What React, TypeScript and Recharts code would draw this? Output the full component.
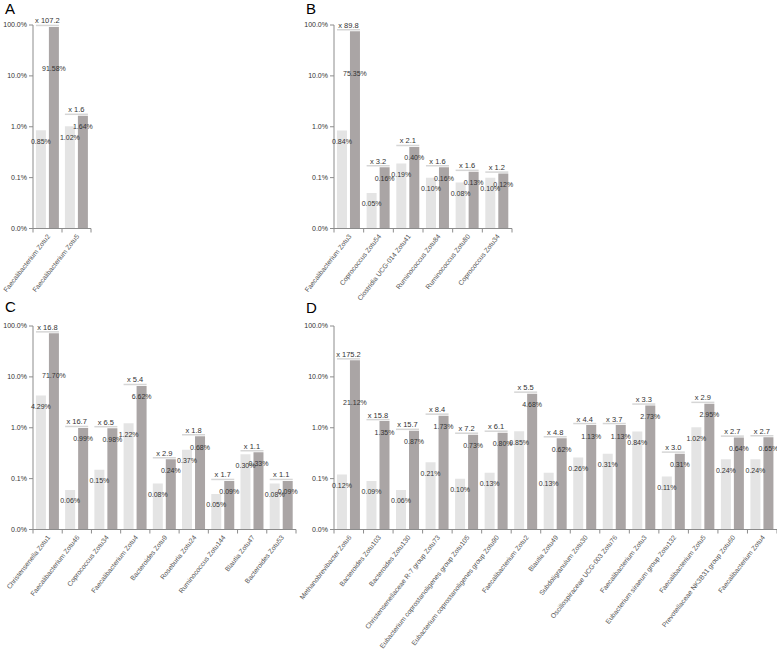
import { BarChart, Bar, XAxis, YAxis, LabelList } from "recharts";

// Panel A
const catsA = ["Faecalibacterium Zotu2", "Faecalibacterium Zotu5"];
const ctrlA = [0.85, 1.02];
const caseA = [91.58, 1.64];
const foldA = [107.2, 1.6];

// Panel B
const catsB = [
    "Faecalibacterium Zotu3",
    "Coprococcus Zotu54",
    "Clostridia UCG-014 Zotu41",
    "Ruminococcus Zotu84",
    "Ruminococcus Zotu80",
    "Coprococcus Zotu34",
];
const ctrlB = [0.84, 0.05, 0.19, 0.1, 0.08, 0.1];
const caseB = [75.35, 0.16, 0.4, 0.16, 0.13, 0.12];
const foldB = [89.8, 3.2, 2.1, 1.6, 1.6, 1.2];

// Panel C
const catsC = [
    "Christensenella Zotu1",
    "Faecalibacterium Zotu46",
    "Coprococcus Zotu34",
    "Faecalibacterium Zotu4",
    "Bacteroides Zotu9",
    "Roseburia Zotu24",
    "Ruminococcus Zotu144",
    "Blautia Zotu47",
    "Bacteroides Zotu53",
];
const ctrlC = [4.29, 0.06, 0.15, 1.22, 0.08, 0.37, 0.05, 0.3, 0.08];
const caseC = [71.7, 0.99, 0.98, 6.62, 0.24, 0.68, 0.09, 0.33, 0.09];
const foldC = [16.8, 16.7, 6.5, 5.4, 2.9, 1.8, 1.7, 1.1, 1.1];

// Panel D
const catsD = [
    "Methanobrevibacter Zotu6",
    "Bacteroides Zotu103",
    "Bacteroides Zotu130",
    "Christensenellaceae R-7 group Zotu73",
    "Eubacterium coprostanoligenes group Zotu105",
    "Eubacterium coprostanoligenes group Zotu90",
    "Faecalibacterium Zotu2",
    "Blautia Zotu49",
    "Subdoligranulum Zotu30",
    "Oscillospiraceae UCG-003 Zotu76",
    "Faecalibacterium Zotu3",
    "Eubacterium siraeum group Zotu132",
    "Faecalibacterium Zotu5",
    "Prevotellaceae NK3B31 group Zotu60",
    "Faecalibacterium Zotu4",
];
const ctrlD = [0.12, 0.09, 0.06, 0.21, 0.1, 0.13, 0.85, 0.13, 0.26, 0.31, 0.84, 0.11, 1.02, 0.24, 0.24];
const caseD = [21.12, 1.35, 0.87, 1.73, 0.73, 0.8, 4.68, 0.62, 1.13, 1.13, 2.73, 0.31, 2.95, 0.64, 0.65];
const foldD = [175.2, 15.8, 15.7, 8.4, 7.2, 6.1, 5.5, 4.8, 4.4, 3.7, 3.3, 3.0, 2.9, 2.7, 2.7];

const yTicks = [0.01, 0.1, 1, 10, 100];

const PLOT_H = 203.5;
const Y_W = 33;
const M_TOP = 22;
const GAP = 3;
const AXIS = "#8c8c8c";

interface PanelProps {
    cats: string[];
    ctrl: number[];
    cases: number[];
    fold: number[];
    left: number;
    top: number;
    plotWidth: number;
    axisHeight: number;
}

function valueLabel(props: any) {
    const { x, y, width, value } = props;
    const off = value >= 10 ? 42 : 11;
    return (
        <text x={x + width / 2} y={y + off + 2.5} textAnchor="middle" fontSize={7} fill="#333">
            {value.toFixed(2) + "%"}
        </text>
    );
}

function Panel(props: PanelProps) {
    const n = props.cats.length;
    const band = props.plotWidth / n;
    const axisY = M_TOP + PLOT_H;
    const rows = props.cats.map((c, i) => ({
        name: c,
        ctrl: props.ctrl[i],
        cases: props.cases[i],
    }));

    const catTick = (p: any) => {
        const x = p.x;
        const i = p.index;
        return (
            <g>
                <line x1={x - band / 2} x2={x - band / 2} y1={axisY} y2={axisY + 4} stroke={AXIS} />
                {i === n - 1 ? (
                    <line x1={x + band / 2} x2={x + band / 2} y1={axisY} y2={axisY + 4} stroke={AXIS} />
                ) : null}
                <text
                    x={x + 3}
                    y={axisY + 8}
                    transform={`rotate(-52, ${x + 3}, ${axisY + 8})`}
                    textAnchor="end"
                    fontSize={6.8}
                    fill="#555">
                    {p.payload.value}
                </text>
            </g>
        );
    };

    const foldLabel = (p: any) => {
        const { x, y, width, index } = p;
        const x1 = x - GAP - width;
        const x2 = x + width;
        const ly = y - 1.5;
        return (
            <g>
                <line x1={x1} x2={x2} y1={ly} y2={ly} stroke="#d6d6d6" strokeWidth={1.5} />
                <text x={(x1 + x2) / 2} y={ly - 2} textAnchor="middle" fontSize={7.5} fill="#333">
                    {"x " + props.fold[index].toFixed(1)}
                </text>
            </g>
        );
    };

    return (
        <div style={{ position: "absolute", left: props.left - Y_W, top: props.top - M_TOP }}>
            <BarChart
                width={Y_W + props.plotWidth + 2}
                height={M_TOP + PLOT_H + props.axisHeight}
                data={rows}
                margin={{ top: M_TOP, right: 2, left: 0, bottom: 0 }}
                barCategoryGap="10%"
                barGap={GAP}>
                <XAxis
                    dataKey="name"
                    height={props.axisHeight}
                    interval={0}
                    tickLine={false}
                    axisLine={{ stroke: AXIS }}
                    tick={catTick}
                />
                <YAxis
                    width={Y_W}
                    type="number"
                    scale="log"
                    domain={[0.01, 100]}
                    ticks={yTicks}
                    allowDataOverflow
                    tickFormatter={(v: number) => v.toFixed(1) + "%"}
                    tick={{ fontSize: 7, fill: "#333" }}
                    tickSize={4}
                    axisLine={{ stroke: AXIS }}
                    tickLine={{ stroke: AXIS }}
                />
                <Bar dataKey="ctrl" fill="#e4e4e4" isAnimationActive={false}>
                    <LabelList dataKey="ctrl" content={valueLabel} />
                </Bar>
                <Bar dataKey="cases" fill="#aaa5a5" isAnimationActive={false}>
                    <LabelList dataKey="cases" content={valueLabel} />
                    <LabelList dataKey="cases" content={foldLabel} />
                </Bar>
            </BarChart>
        </div>
    );
}

function App(): JSX.Element {
    return (
        <div
            style={{
                position: "absolute",
                left: 0,
                top: 0,
                width: 777,
                height: 649,
                overflow: "hidden",
                background: "#fff",
                fontFamily: "'Liberation Sans', Arial, sans-serif",
            }}>
            <style>{".recharts-surface { overflow: visible; }"}</style>
            <Panel cats={catsA} ctrl={ctrlA} cases={caseA} fold={foldA} left={33} top={24.5} plotWidth={58} axisHeight={90} />
            <Panel cats={catsB} ctrl={ctrlB} cases={caseB} fold={foldB} left={334} top={24.5} plotWidth={178} axisHeight={90} />
            <Panel cats={catsC} ctrl={ctrlC} cases={caseC} fold={foldC} left={33} top={326} plotWidth={263} axisHeight={110} />
            <Panel cats={catsD} ctrl={ctrlD} cases={caseD} fold={foldD} left={334} top={326} plotWidth={443} axisHeight={120} />
            <svg width={777} height={649} style={{ position: "absolute", left: 0, top: 0, pointerEvents: "none" }}>
                <text x={5} y={13.5} fontSize={15} fill="#000">A</text>
                <text x={306} y={13.5} fontSize={15} fill="#000">B</text>
                <text x={5} y={312} fontSize={15} fill="#000">C</text>
                <text x={306} y={313} fontSize={15} fill="#000">D</text>
            </svg>
        </div>
    );
}

export default App;
